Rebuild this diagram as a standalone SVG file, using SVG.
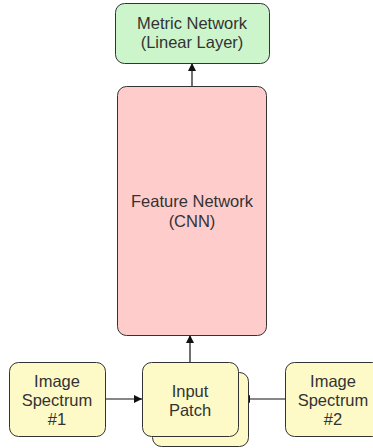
<svg xmlns="http://www.w3.org/2000/svg" width="373" height="448" viewBox="0 0 373 448">
  <style>
    .box { stroke: #333; stroke-width: 1; }
    .metric { fill: #ccf5cc; }
    .feature { fill: #ffcccc; }
    .input { fill: #fdfac8; }
    .label { font-family: "Liberation Sans", Arial, sans-serif; font-size: 16.5px; fill: #333; text-anchor: middle; }
    .edge { stroke: #111; stroke-width: 1.2; fill: none; marker-end: url(#arrow); }
  </style>
  <defs>
    <marker id="arrow" viewBox="0 0 10 10" refX="10" refY="5" markerWidth="8" markerHeight="8" markerUnits="userSpaceOnUse" orient="auto">
      <path d="M0,0 L10,5 L0,10 z" fill="#111"/>
    </marker>
  </defs>

  <rect width="373" height="448" fill="#fff"/>

  <!-- connectors (drawn beneath the nodes) -->
  <g id="connectors">
    <line class="edge" x1="192" y1="86" x2="192" y2="63"/>
    <line class="edge" x1="190" y1="363" x2="190" y2="335"/>
    <line class="edge" x1="105" y1="399" x2="142" y2="399"/>
    <line class="edge" x1="285" y1="399" x2="242" y2="399"/>
  </g>

  <g id="metric-network">
    <rect class="box metric" x="115.5" y="3.5" width="154" height="60" rx="9"/>
    <text class="label" x="192" y="29">Metric Network</text>
    <text class="label" x="192" y="48">(Linear Layer)</text>
  </g>

  <g id="feature-network">
    <rect class="box feature" x="117.5" y="86.5" width="149" height="249" rx="9"/>
    <text class="label" x="192" y="207">Feature Network</text>
    <text class="label" x="192" y="227">(CNN)</text>
  </g>

  <g id="image-spectrum-1">
    <rect class="box input" x="9.5" y="362.5" width="96" height="74" rx="9"/>
    <text class="label" x="57" y="387">Image</text>
    <text class="label" x="57" y="406">Spectrum</text>
    <text class="label" x="57" y="425">#1</text>
  </g>

  <g id="input-patch">
    <rect class="box input" x="152.5" y="372.5" width="96" height="74" rx="9"/>
    <rect class="box input" x="142.5" y="362.5" width="96" height="74" rx="9"/>
    <text class="label" x="190" y="397">Input</text>
    <text class="label" x="190" y="416">Patch</text>
  </g>

  <g id="image-spectrum-2">
    <rect class="box input" x="285.5" y="362.5" width="96" height="74" rx="9"/>
    <text class="label" x="333" y="387">Image</text>
    <text class="label" x="333" y="406">Spectrum</text>
    <text class="label" x="333" y="425">#2</text>
  </g>
</svg>
